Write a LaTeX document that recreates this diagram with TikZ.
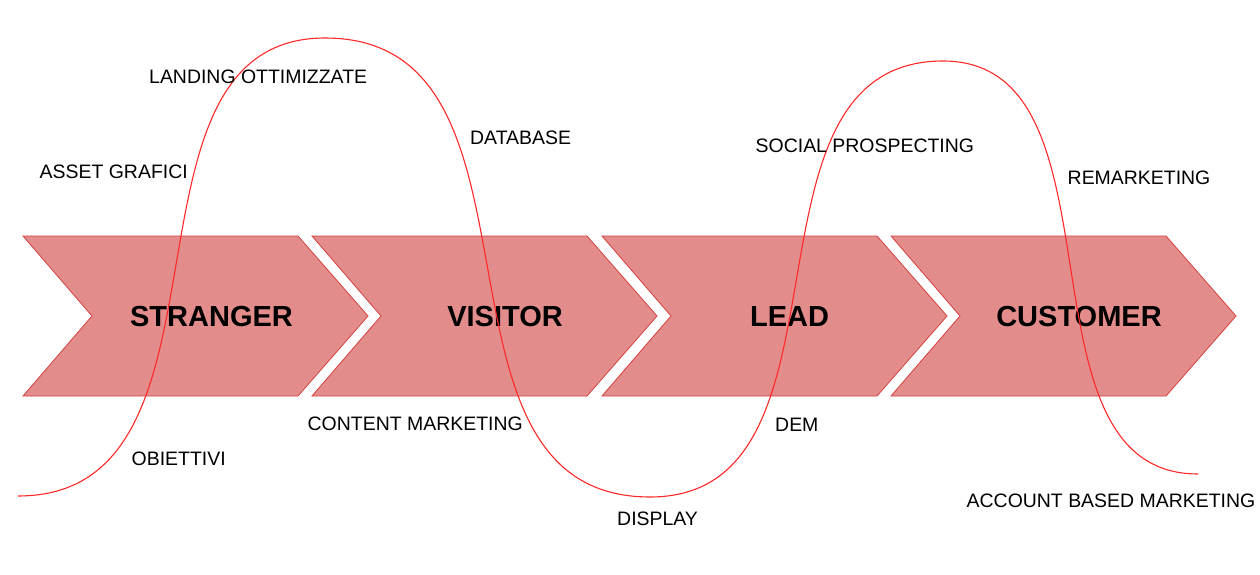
\documentclass[tikz,border=0pt]{standalone}
\usepackage{fontspec}
\setmainfont{Liberation Sans}
\definecolor{chevfill}{RGB}{226,141,139}
\definecolor{chevline}{RGB}{214,64,64}
\definecolor{wave}{RGB}{255,40,40}
\begin{document}
\begin{tikzpicture}[x=1pt,y=-1pt,
  chevron/.style={fill=chevfill,draw=chevline,line width=0.8pt,line join=miter},
  stagelabel/.style={inner sep=0pt,anchor=base,font=\fontsize{29}{30}\selectfont\bfseries,text=black},
  tag/.style={inner sep=0pt,anchor=base west,font=\fontsize{19.45}{21}\selectfont,text=black},
  wavestyle/.style={draw=wave,line width=1.1pt}]
\useasboundingbox (0,0) rectangle (1260,575);
% chevrons
\foreach \x/\n in {23/a,312/b,602/c,891/d}{
  \path[chevron] (\x,236) -- ++(275,0) -- ++(70,80) -- ++(-70,80) -- ++(-275,0) -- ++(69,-80) -- cycle;
}
\node[stagelabel] (stranger) at (211.5,326.5) {STRANGER};
\node[stagelabel] (visitor) at (505,326.5) {VISITOR};
\node[stagelabel] (lead) at (789.5,326.5) {LEAD};
\node[stagelabel] (customer) at (1079,326.5) {CUSTOMER};
% wave
\coordinate (w0) at (18,496);
\coordinate (w1) at (325,38);
\coordinate (w2) at (650,497);
\coordinate (w3) at (943,61);
\coordinate (w4) at (1198,474);
\draw[wavestyle] (w0) .. controls (252,496) and (102,38) .. (w1)
  .. controls (567,38) and (408,497) .. (w2)
  .. controls (868,497) and (725,61) .. (w3)
  .. controls (1133,61) and (1008,474) .. (w4);
% labels
\node[tag] (landing) at (149,84) {LANDING OTTIMIZZATE};
\node[tag] (asset) at (39.5,178) {ASSET GRAFICI};
\node[tag] (database) at (470,144) {DATABASE};
\node[tag] (social) at (755.5,153) {SOCIAL PROSPECTING};
\node[tag] (remarketing) at (1067.5,184) {REMARKETING};
\node[tag] (obiettivi) at (131.5,465) {OBIETTIVI};
\node[tag] (content) at (307.5,430) {CONTENT MARKETING};
\node[tag] (dem) at (775,431) {DEM};
\node[tag] (display) at (617,525) {DISPLAY};
\node[tag] (abm) at (966.5,507) {ACCOUNT BASED MARKETING};
\end{tikzpicture}
\end{document}
